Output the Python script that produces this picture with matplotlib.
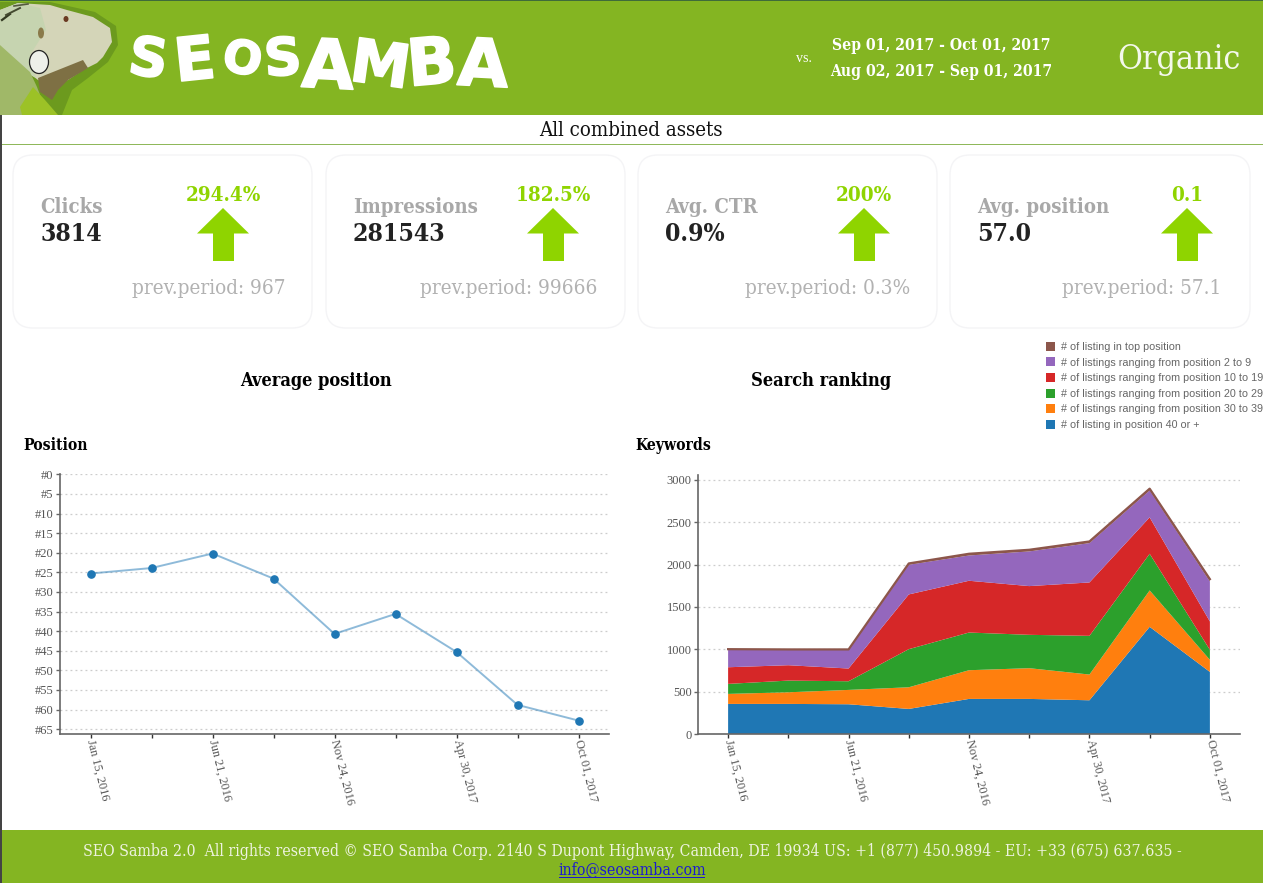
import matplotlib
matplotlib.use("Agg")
import matplotlib.pyplot as plt
import matplotlib.patheffects as pe
from matplotlib.patches import Ellipse, FancyBboxPatch, Polygon, Rectangle
from matplotlib.transforms import ScaledTranslation

W, H = 1263, 883

# data
dates = ["Jan 15, 2016", "", "Jun 21, 2016", "", "Nov 24, 2016", "", "Apr 30, 2017", "", "Oct 01, 2017"]
position = [25.3, 23.9, 20.2, 26.6, 40.7, 35.6, 45.3, 58.8, 62.8]
pos_ticks = [0, 5, 10, 15, 20, 25, 30, 35, 40, 45, 50, 55, 60, 65]

rank_40 = [358, 358, 354, 299, 417, 417, 401, 1266, 735]
rank_30 = [118, 137, 169, 255, 338, 362, 303, 429, 142]
rank_20 = [118, 138, 102, 449, 444, 393, 456, 432, 118]
rank_10 = [196, 181, 150, 645, 610, 574, 629, 429, 334]
rank_2 = [205, 181, 220, 350, 298, 409, 464, 318, 472]
rank_top = [8, 5, 5, 15, 20, 19, 19, 20, 27]
rank_labels = ["# of listing in position 40 or +",
               "# of listings ranging from position 30 to 39",
               "# of listings ranging from position 20 to 29",
               "# of listings ranging from position 10 to 19",
               "# of listings ranging from position 2 to 9",
               "# of listing in top position"]
rank_colors = ["#1f77b4", "#ff7f0e", "#2ca02c", "#d62728", "#9467bd", "#8c564b"]

card_titles = ["Clicks", "Impressions", "Avg. CTR", "Avg. position"]
card_values = ["3814", "281543", "0.9%", "57.0"]
card_changes = ["294.4%", "182.5%", "200%", "0.1"]
card_prev = ["prev.period: 967", "prev.period: 99666", "prev.period: 0.3%", "prev.period: 57.1"]

GREEN = "#84b522"
LIME = "#8fd400"
SERIF = "DejaVu Serif"
THIN = "Liberation Serif"


def fs(px):
    return px * 72 / 100


fig = plt.figure(figsize=(W / 100, H / 100), dpi=100)
bg = fig.add_axes([0, 0, 1, 1])
bg.set_xlim(0, W)
bg.set_ylim(H, 0)
bg.axis("off")


def txt(x, y, s, px, **kw):
    kw.setdefault("family", SERIF)
    kw.setdefault("va", "center")
    kw.setdefault("stretch", "condensed")
    return bg.text(x, y + 1, s, fontsize=fs(px), **kw)


# page frame and banner
bg.add_patch(Rectangle((0, 0), 1.5, H, color="#444444", lw=0))
bg.add_patch(Rectangle((0, 0), W, 115, color=GREEN, lw=0))
bg.add_patch(Rectangle((0, 0), W, 1.2, color="#3f6b3a", lw=0))
bg.add_patch(Rectangle((2, 830), W, 53, color=GREEN, lw=0))
bg.add_patch(Rectangle((2, 144), W, 1, color="#8fb85a", lw=0))

# iguana
bg.add_patch(Polygon([(50, 2), (95, 12), (116, 26), (118, 45), (108, 62), (88, 78), (72, 90), (62, 115), (0, 115), (0, 2)],
                     color="#6c9a1e", lw=0))
bg.add_patch(Polygon([(0, 10), (18, 3), (50, 5), (67, 10), (93, 17), (110, 28), (112, 42), (103, 57), (97, 63), (83, 70),
                      (68, 80), (50, 85), (38, 80), (0, 50)], color="#d4d5b8", lw=0))
bg.add_patch(Polygon([(0, 10), (18, 3), (40, 8), (46, 30), (30, 55), (36, 78), (20, 70), (0, 50)], color="#c6d4b0", lw=0))
bg.add_patch(Polygon([(38, 78), (83, 60), (88, 68), (68, 80), (58, 90), (52, 100), (40, 92)], color="#7e7044", lw=0))
bg.add_patch(Polygon([(0, 45), (30, 72), (37, 87), (42, 100), (54, 115), (0, 115)], color="#a0b868", lw=0))
bg.add_patch(Polygon([(20, 107), (33, 87), (45, 100), (58, 115), (22, 115)], color="#9cc226", lw=0))
bg.add_patch(Ellipse((39, 62), 19, 23, fc="#eef0ea", ec="#222222", lw=0.9))
bg.add_patch(Ellipse((66, 19), 5, 6, fc="#6a3a22", lw=0))
bg.add_patch(Ellipse((41, 33), 6, 11, fc="#8a7a4a", lw=0))
bg.plot([2, 10], [20, 14], color="#333a22", lw=1.6)
bg.plot([6, 20], [15, 8], color="#444a30", lw=1.4)
bg.plot([14, 28], [6, 4], color="#555a40", lw=1.2)

# logo letters
logo_letters = list("SEOSAMBA")
logo_x = [148, 195, 242, 283, 328, 380, 432, 483]
logo_y = [61, 63, 61, 61, 69, 68, 66, 68]
logo_rot = [-8, 6, -12, 4, -3, -8, 5, -3]
logo_px = [54, 60, 46, 52, 68, 60, 65, 66]
for ch, x, y, rot, size in zip(logo_letters, logo_x, logo_y, logo_rot, logo_px):
    t = txt(x, y - 1, ch, size, color="white", weight="bold", family="DejaVu Sans", stretch="normal", ha="center", rotation=rot)
    t.set_path_effects([pe.withStroke(linewidth=1.2, foreground="white")])

# header text
txt(804, 58, "vs.", 14, color="white", ha="center", family=THIN)
txt(941, 45, "Sep 01, 2017 - Oct 01, 2017", 15.6, color="white", weight="bold", ha="center")
txt(941, 70, "Aug 02, 2017 - Sep 01, 2017", 15.6, color="white", weight="bold", ha="center")
txt(1179, 59, "Organic", 33.8, color="#f4f8ec", ha="center")
txt(631, 130, "All combined assets", 20.4, color="#111111", ha="center")

# cards
card_left = [13, 326, 638, 950]
card_width = [299, 299, 299, 300]
arrow_x = [223, 553, 864, 1187]
prev_right = [285, 597, 910, 1221]
for i in range(4):
    x0 = card_left[i]
    bg.add_patch(FancyBboxPatch((x0 + 20, 175), card_width[i] - 40, 133, boxstyle="round,pad=20,rounding_size=20",
                                fc="white", ec="#f4f4f6", lw=1))
    txt(x0 + 27, 206, card_titles[i], 20.3, color="#a8a8a8", weight="bold")
    txt(x0 + 27, 233, card_values[i], 24.8, color="#222222", weight="bold")
    ax_c = arrow_x[i]
    txt(ax_c, 194, card_changes[i], 20.5, color=LIME, weight="bold", ha="center")
    bg.add_patch(Polygon([(ax_c, 208), (ax_c + 26, 233.5), (ax_c + 11, 233.5), (ax_c + 11, 261), (ax_c - 10, 261),
                          (ax_c - 10, 233.5), (ax_c - 26, 233.5)], color=LIME, lw=0))
    txt(prev_right[i], 288, card_prev[i], 20.7, color="#b2b2b2", ha="right")

# section titles
txt(316, 380, "Average position", 18.2, color="black", weight="bold", ha="center")
txt(821, 380, "Search ranking", 18.2, color="black", weight="bold", ha="center")
txt(23, 444, "Position", 15.6, color="black", weight="bold")
txt(635, 444, "Keywords", 15.6, color="black", weight="bold")

# footer
txt(632, 850, "SEO Samba 2.0  All rights reserved © SEO Samba Corp. 2140 S Dupont Highway, Camden, DE 19934 US: +1 (877) 450.9894 - EU: +33 (675) 637.635 -",
    15.75, color="#eef3e0", ha="center")
txt(632, 869, "info@seosamba.com", 15.75, color="#1a1ad0", ha="center")
bg.add_patch(Rectangle((559, 876.5), 146, 1, color="#1a1ad0", lw=0))


def chart_axes(left, right, top, bottom):
    ax = fig.add_axes([left / W, 1 - bottom / H, (right - left) / W, (bottom - top) / H])
    ax.patch.set_alpha(0)
    for s in ["top", "right"]:
        ax.spines[s].set_visible(False)
    for s in ["left", "bottom"]:
        ax.spines[s].set_color("#666666")
        ax.spines[s].set_linewidth(1.2)
    ax.set_xlim(-0.5, 8.5)
    ax.set_xticks(range(len(dates)))
    ax.set_xticklabels(dates, rotation=284, ha="left", va="center", rotation_mode="anchor",
                       family=THIN, fontsize=fs(12.2), color="#555555")
    shift = ScaledTranslation(-2.5 / 100, 0, fig.dpi_scale_trans)
    for lbl in ax.get_xticklabels():
        lbl.set_transform(lbl.get_transform() + shift)
    ax.tick_params(axis="x", length=3, width=1, color="#333333", pad=1)
    ax.tick_params(axis="y", length=3, width=1, color="#666666", pad=1.5, labelcolor="#555555")
    ax.grid(axis="y", color="#cccccc", lw=0.9, ls=(0, (1.5, 2.5)))
    ax.set_axisbelow(True)
    return ax


# line chart
ax1 = chart_axes(60, 609, 474.3, 734.3)
ax1.set_ylim(66.3, 0)
ax1.set_yticks(pos_ticks)
ax1.set_yticklabels(["#%d" % t for t in pos_ticks], family=THIN, fontsize=fs(12.5))
ax1.plot(range(len(position)), position, color="#1f77b4", alpha=0.5, lw=1.4)
ax1.plot(range(len(position)), position, ls="", marker="o", ms=5.2, color="#1f77b4", clip_on=False)

# stacked area
ax2 = chart_axes(698, 1240, 475, 734.3)
ax2.set_ylim(0, 3055)
ax2.set_yticks([0, 500, 1000, 1500, 2000, 2500, 3000])
ax2.set_yticklabels(["0", "500", "1000", "1500", "2000", "2500", "3000"], family=THIN, fontsize=fs(12.5))
areas = ax2.stackplot(range(len(rank_40)), rank_40, rank_30, rank_20, rank_10, rank_2, rank_top,
                      colors=rank_colors, labels=rank_labels, lw=0)
tops = [sum(v) for v in zip(rank_40, rank_30, rank_20, rank_10, rank_2, rank_top)]
ax2.plot(range(len(tops)), tops, color=rank_colors[5], lw=1.6)

handles = areas[::-1]
labels = rank_labels[::-1]
leg = ax2.legend(handles, labels, loc="upper left", bbox_to_anchor=(1042.5 / W, 1 - 338.5 / H),
                 bbox_transform=fig.transFigure, frameon=False, borderpad=0.3, borderaxespad=0,
                 prop={"family": "Liberation Sans", "size": fs(10.8)}, labelcolor="#666666",
                 handlelength=0.9, handleheight=0.9, handletextpad=0.55, labelspacing=0.5)
leg.set_clip_on(False)

fig.savefig("out.png", dpi=100)
